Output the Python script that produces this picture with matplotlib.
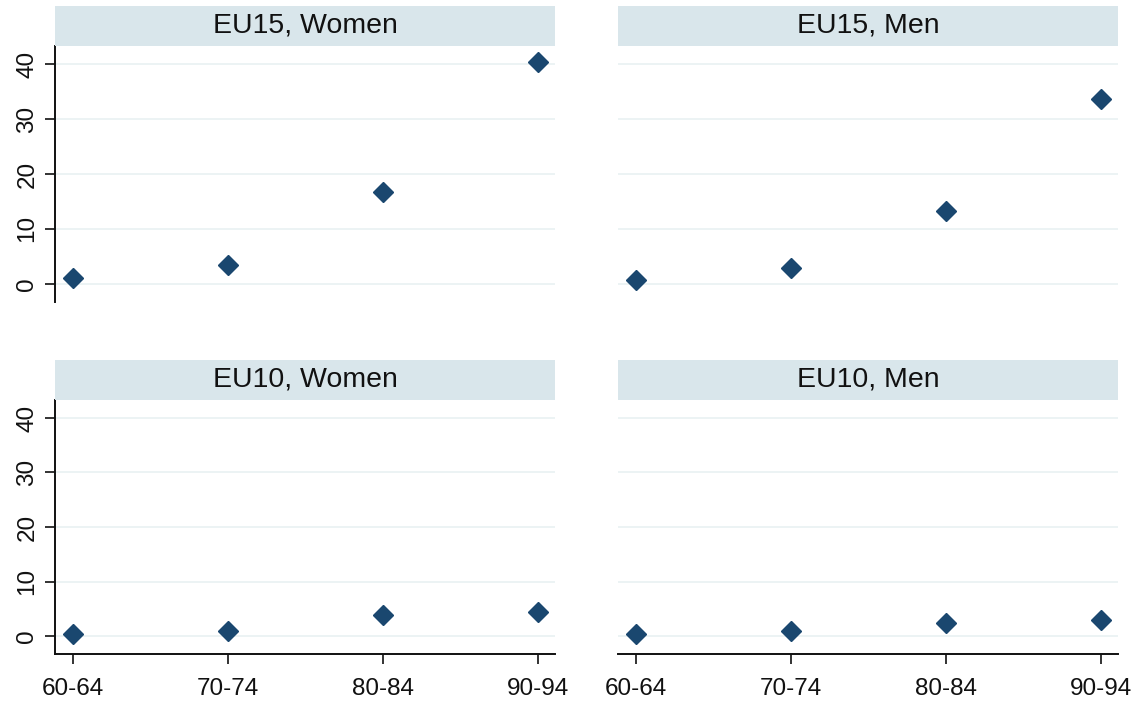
import matplotlib.pyplot as plt

# Age groups and share (%) per panel
age_groups = ['60-64', '70-74', '80-84', '90-94']
eu15_women = [1.1, 3.5, 16.8, 40.3]
eu15_men = [0.7, 2.9, 13.3, 33.6]
eu10_women = [0.3, 0.9, 3.8, 4.4]
eu10_men = [0.3, 0.9, 2.4, 3.0]
panel_titles = ['EU15, Women', 'EU15, Men', 'EU10, Women', 'EU10, Men']
y_ticks = [0, 10, 20, 30, 40]

plt.rcParams['font.family'] = ['Liberation Sans', 'DejaVu Sans']

W, H = 1142, 702
fig = plt.figure(figsize=(W / 100, H / 100), dpi=100)

marker_color = '#1a476f'
strip_color = '#d9e6eb'
grid_color = '#eaf2f3'

# pixel boxes: (left, right, strip_top, plot_top, plot_bottom)
boxes = [(55, 555, 6, 46, 302), (618, 1118, 6, 46, 302),
         (55, 555, 360, 400, 654), (618, 1118, 360, 400, 654)]
series = [eu15_women, eu15_men, eu10_women, eu10_men]

for i, (l, r, st, pt, pb) in enumerate(boxes):
    ax = fig.add_axes([l / W, 1 - pb / H, (r - l) / W, (pb - pt) / H])
    xs = range(len(age_groups))
    ax.plot(xs, series[i], linestyle='none', marker='D', markersize=10.5,
            color=marker_color, zorder=3)
    ax.set_xlim(-0.116, 3.11)
    ax.set_ylim(-3.3, 43.3)
    ax.set_yticks(y_ticks)
    for t in y_ticks:
        ax.axhline(t, color=grid_color, linewidth=1.3, zorder=1)
    for s in ax.spines.values():
        s.set_visible(False)
    left_col = (i % 2 == 0)
    bottom_row = (i >= 2)
    ax.tick_params(axis='both', length=7, width=1.2, color='#111111',
                   labelsize=17.5, labelcolor='#111111')
    if left_col:
        ax.spines['left'].set_visible(True)
        ax.spines['left'].set_linewidth(1.4)
        ax.spines['left'].set_color('#111111')
        ax.set_yticklabels([str(t) for t in y_ticks], rotation=90, va='center')
        ax.tick_params(axis='y', pad=5)
    else:
        ax.tick_params(axis='y', left=False, labelleft=False)
    if bottom_row:
        ax.spines['bottom'].set_visible(True)
        ax.spines['bottom'].set_linewidth(1.4)
        ax.spines['bottom'].set_color('#111111')
        ax.set_xticks(list(xs))
        ax.set_xticklabels(age_groups)
        ax.tick_params(axis='x', pad=10)
    else:
        ax.tick_params(axis='x', bottom=False, labelbottom=False)
    ax.patch.set_alpha(0)

    sax = fig.add_axes([l / W, 1 - pt / H, (r - l) / W, (pt - st) / H])
    sax.set_facecolor(strip_color)
    sax.set_xticks([])
    sax.set_yticks([])
    for s in sax.spines.values():
        s.set_visible(False)
    sax.text(0.5, 0.5, panel_titles[i], ha='center', va='center',
             fontsize=20.5, color='#111111', transform=sax.transAxes)

fig.savefig('out.png', dpi=100)
